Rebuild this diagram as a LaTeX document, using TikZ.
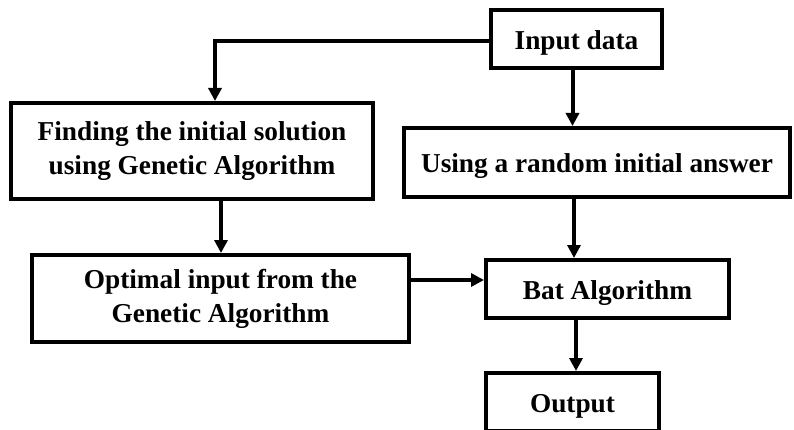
\documentclass[tikz,border=0pt]{standalone}
\usepackage{fontspec}
\setmainfont{Liberation Serif}
\usetikzlibrary{arrows.meta}
\begin{document}
\begin{tikzpicture}[x=1pt,y=-1pt,
  box/.style={draw,line width=4pt,inner sep=0pt,align=center,font=\fontsize{27.3}{34}\selectfont\bfseries,
    execute at begin node={\rule{0pt}{27pt}}},
  arr/.style={line width=4pt,-{Triangle[length=13pt,width=13pt]}}]
\useasboundingbox (0,0) rectangle (794,430);
\node[box,minimum width=171pt,minimum height=58pt] (in) at (576.5,39) {Input data};
\node[box,minimum width=362pt,minimum height=96pt] (fi) at (192,151) {Finding the initial solution\\using Genetic Algorithm};
\node[box,minimum width=386pt,minimum height=69pt] (us) at (597,162.5) {Using a random initial answer};
\node[box,minimum width=377pt,minimum height=87pt] (op) at (220.5,298.5) {Optimal input from the\\Genetic Algorithm};
\node[box,minimum width=243pt,minimum height=58pt] (bat) at (607.5,289) {Bat Algorithm};
\node[box,minimum width=173pt,minimum height=58pt] (out) at (572.5,402) {Output};
\draw[arr] ([yshift=-2pt]in.west) -| ([xshift=23pt]fi.north);
\draw[arr] ([xshift=-4pt]in.south) -- ([xshift=-4pt]in.south |- us.north);
\draw[arr] ([xshift=29pt]fi.south) -- ([xshift=29pt]fi.south |- op.north);
\draw[arr] ([xshift=-23pt]us.south) -- ([xshift=-23pt]us.south |- bat.north);
\draw[arr] ([yshift=18.5pt]op.east) -- ([yshift=18.5pt]op.east -| bat.west);
\draw[arr] ([xshift=-31.5pt]bat.south) -- ([xshift=-31.5pt]bat.south |- out.north);
\end{tikzpicture}
\end{document}
